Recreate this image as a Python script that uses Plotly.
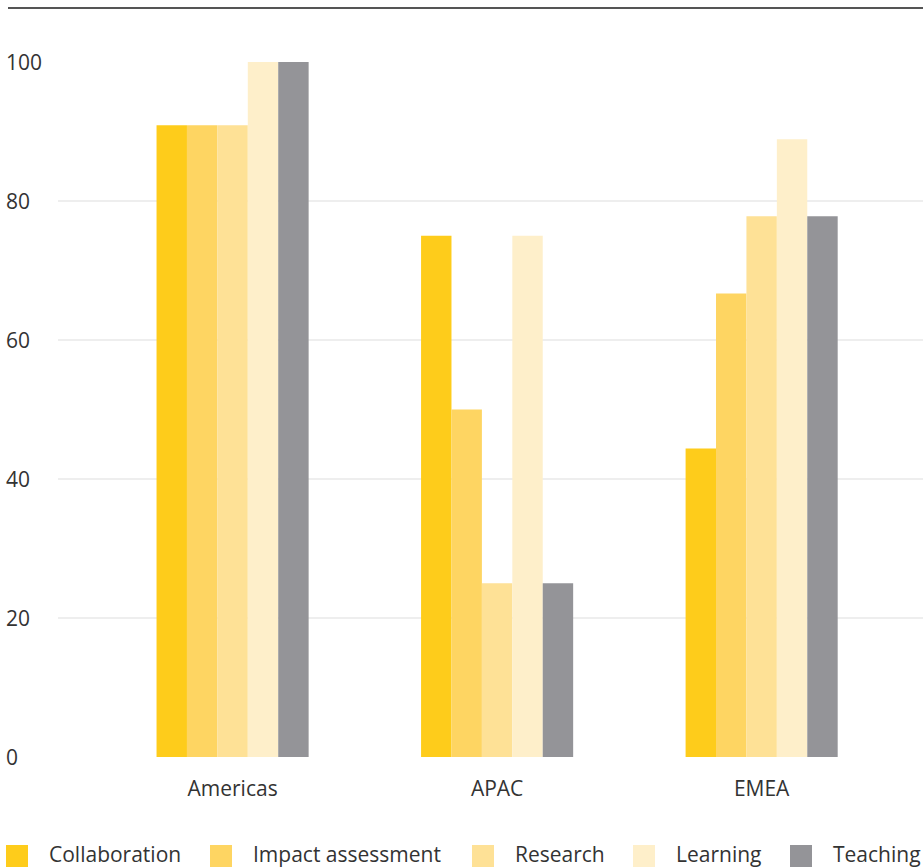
import plotly.graph_objects as go

regions = ["Americas", "APAC", "EMEA"]
series_names = ["Collaboration", "Impact assessment", "Research", "Learning", "Teaching"]
collaboration = [90.9, 75, 44.4]
impact_assessment = [90.9, 50, 66.7]
research = [90.9, 25, 77.8]
learning = [100, 75, 88.9]
teaching = [100, 25, 77.8]
series_values = [collaboration, impact_assessment, research, learning, teaching]
y_ticks = [0, 20, 40, 60, 80, 100]

colors = ["#FECC1B", "#FED562", "#FEE196", "#FEEFCA", "#949498"]
font_family = "Open Sans"
text_color = "#333333"
font_size = 21

W, H = 923, 868
margin = dict(l=58, r=0, t=62, b=111)
plot_w = W - margin["l"] - margin["r"]
plot_h = H - margin["t"] - margin["b"]

fig = go.Figure()
for name, vals, col in zip(series_names, series_values, colors):
    fig.add_trace(go.Bar(
        x=regions, y=vals, name=name,
        marker=dict(color=col, line=dict(width=0)),
        showlegend=False,
    ))

fig.update_layout(
    width=W, height=H,
    margin=margin,
    paper_bgcolor="white", plot_bgcolor="white",
    barmode="group", bargap=0.425, bargroupgap=0,
    font=dict(family=font_family, size=font_size, color=text_color),
    showlegend=False,
)
fig.update_xaxes(
    range=[-0.66, 2.61],
    showgrid=False, zeroline=False, showline=False,
    ticks="outside", ticklen=13, tickcolor="rgba(0,0,0,0)",
    tickfont=dict(size=font_size, color=text_color),
)
fig.update_yaxes(
    range=[0, 100],
    tickvals=y_ticks, showticklabels=False,
    showgrid=True, gridcolor="#EEEEEE", gridwidth=2,
    zeroline=False, showline=False,
)

# y tick labels, left aligned at the page edge
for v in y_ticks:
    fig.add_annotation(
        x=0, xref="paper", xanchor="left", xshift=-53,
        y=v, yref="y", yanchor="middle",
        text=str(v), showarrow=False, borderpad=0,
        font=dict(size=font_size, color=text_color, family=font_family),
    )

# dark rule across the top
fig.add_shape(
    type="line", xref="paper", yref="paper",
    x0=(8 - margin["l"]) / plot_w, x1=1,
    y0=1 + (margin["t"] - 8) / plot_h, y1=1 + (margin["t"] - 8) / plot_h,
    line=dict(color="#555555", width=2),
)

# legend row below the chart
swatch_px = [6, 210, 472, 633, 790]
sw = 22
sw_top, sw_bot = 845, 867
for name, col, px in zip(series_names, colors, swatch_px):
    fig.add_shape(
        type="rect", xref="paper", yref="paper",
        x0=(px - margin["l"]) / plot_w, x1=(px + sw - margin["l"]) / plot_w,
        y0=(H - margin["b"] - sw_bot) / plot_h, y1=(H - margin["b"] - sw_top) / plot_h,
        fillcolor=col, line=dict(width=0),
    )
    fig.add_annotation(
        x=(px + sw + 20 - margin["l"]) / plot_w, xref="paper", xanchor="left",
        y=(H - margin["b"] - 854) / plot_h, yref="paper", yanchor="middle",
        text=name, showarrow=False, borderpad=0,
        font=dict(size=font_size, color=text_color, family=font_family),
    )

fig.write_html("out.html")
